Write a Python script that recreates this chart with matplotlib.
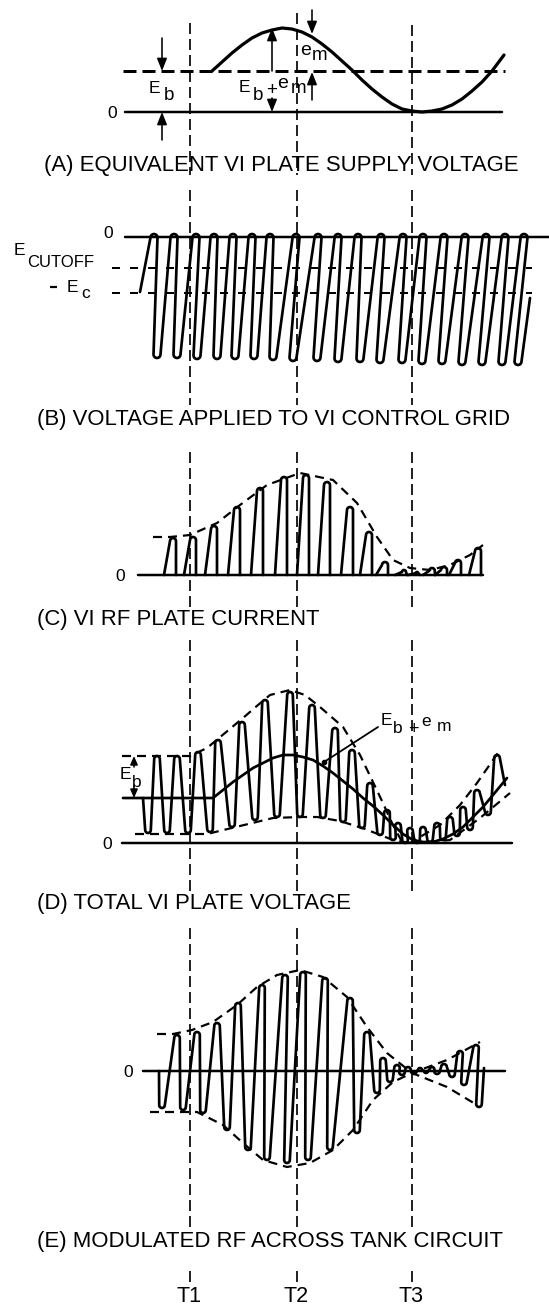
import numpy as np
import matplotlib
matplotlib.use("Agg")
import matplotlib.pyplot as plt

plt.rcParams['font.family'] = ['Liberation Sans', 'DejaVu Sans']
plt.rcParams['lines.scale_dashes'] = False
plt.rcParams['lines.solid_capstyle'] = 'round'
plt.rcParams['lines.solid_joinstyle'] = 'round'

# ---------------- data (x positions in time units = px, heights above each zero line) ----
t_labels = ['T1', 'T2', 'T3']
t_x = [190, 297, 412]
t_top = [23, 13, 25]

captions = ['(A) EQUIVALENT VI PLATE SUPPLY VOLTAGE',
            '(B) VOLTAGE APPLIED TO VI CONTROL GRID',
            '(C) VI RF PLATE CURRENT',
            '(D) TOTAL VI PLATE VOLTAGE',
            '(E) MODULATED RF ACROSS TANK CIRCUIT']

# (A) plate supply: E_b level and E_b + e_m curve
a_eb = 41
a_mod_x = [212, 222, 232, 242, 252, 262, 272, 282, 292, 302, 312, 322, 332, 342, 352,
           362, 372, 382, 392, 402, 412, 422, 432, 442, 452, 462, 472, 482, 492, 504]
a_mod_h = [41, 50, 59, 67, 74, 79, 82, 84, 83, 80, 75, 68, 60, 51, 42,
           32, 23, 15, 8, 3, 1, 0, 1, 3, 7, 13, 21, 30, 41, 57]

# (B) grid voltage: peaks / troughs
b_cutoff = -31
b_ec = -56
b_start = (140, -55)
b_end = (530, -61)
b_peak_x = [154, 174, 196, 214, 233, 252, 270, 296, 318, 338, 358, 381, 403, 423, 444, 465, 486, 505, 524]
b_peak_h = [3] * 19
b_trough_x = [157, 177, 197, 217, 235, 254, 273, 293, 317, 338, 360, 380, 402, 422, 442, 462, 482, 502, 518]
b_trough_h = [-121, -121, -122, -122, -122, -122, -123, -124, -124, -125,
              -125, -126, -126, -127, -127, -128, -128, -128, -128]

# (C) plate current pulses + envelope
c_pulse_x = [173, 193, 214, 237, 260, 284, 306, 327, 350, 369, 385, 404, 417, 432, 444, 458, 478]
c_pulse_h = [37, 38, 49, 68, 87, 98, 100, 93, 68, 43, 13, 5, 3, 7, 8, 15, 27]
c_env_x = [153, 170, 190, 217, 240, 267, 300, 333, 357, 377, 393, 410, 430, 450, 470, 483]
c_env_h = [38, 38, 40, 52, 70, 90, 102, 95, 72, 38, 15, 7, 5, 10, 20, 30]

# (D) total plate voltage
d_eb = 45
d_mod_x = [123, 213, 223, 233, 243, 253, 263, 273, 283, 293, 303, 313, 323, 333, 343, 353,
           363, 373, 383, 393, 403, 413, 423, 433, 443, 453, 463, 473, 483, 493, 507]
d_mod_h = [45, 45, 53, 61, 68, 75, 80, 85, 88, 88, 86, 83, 77, 70, 62, 54,
           45, 37, 28, 18, 9, 3, 1, 1, 4, 9, 16, 26, 36, 48, 65]
d_start = (143, 45)
d_end = (505, 58)
d_trough_x = [148, 167, 188, 210, 232, 255, 277, 300, 323, 343, 362, 380, 393, 405, 417, 430, 443, 457, 470, 488]
d_trough_h = [10, 10, 10, 11, 16, 23, 26, 26, 25, 21, 15, 8, 3, 0, 0, 1, 3, 7, 13, 28]
d_peak_x = [157, 177, 198, 218, 242, 265, 290, 312, 335, 352, 370, 387, 398, 410, 423, 437, 450, 463, 477, 497]
d_peak_h = [87, 87, 91, 103, 121, 143, 151, 138, 115, 93, 60, 33, 20, 15, 16, 20, 26, 36, 53, 88]
d_up_x = [122, 190, 207, 225, 243, 258, 270, 290, 305, 320, 343, 360, 372, 382, 392, 401, 410, 440, 460, 477, 500]
d_up_h = [87, 87, 95, 110, 125, 138, 148, 153, 148, 136, 116, 88, 63, 42, 20, 3, 0, 18, 38, 60, 93]
d_lo_x = [135, 207, 240, 273, 300, 317, 340, 365, 393, 410, 430, 450, 480, 510]
d_lo_h = [9, 9, 17, 25, 26, 26, 22, 14, 3, 0, 1, 3, 25, 50]

# (E) modulated RF across tank
e_start = (159, 0)
e_end = (484, 3)
e_ext_x = [162, 177, 183, 197, 203, 217, 227, 238, 248, 262, 267, 285, 287, 303, 308, 325, 330, 350,
           357, 367, 377, 383, 390, 397, 402, 408, 414, 420, 426, 432, 437, 444, 452, 460, 464, 476, 479]
e_ext_h = [-37, 36, -39, 39, -42, 48, -59, 68, -79, 86, -89, 96, -92, 99, -89, 93, -79, 73,
           -62, 39, -22, 13, -11, 6, -4, 4, -3, 3, -2, 4, -3, 7, -6, 20, -14, 26, -36]
e_up_x = [157, 173, 192, 213, 237, 257, 277, 300, 323, 347, 367, 387, 412, 447, 480]
e_up_h = [37, 37, 41, 49, 66, 84, 96, 101, 94, 74, 44, 18, -2, 11, 29]
e_lo_x = [150, 197, 223, 243, 263, 287, 310, 333, 353, 373, 393, 412, 447, 477]
e_lo_h = [-41, -41, -54, -72, -89, -96, -92, -79, -59, -29, -11, -2, -16, -34]

# ---------------- layout ----------------
BASE_A, BASE_B, BASE_C, BASE_D, BASE_E = 112, 237, 575, 843, 1071
CAP_Y = [165, 419, 619, 904, 1242]
CAP_X = [44, 37, 37, 37, 37]
T_SEGS = [(None, 175), (190, 405), (452, 607), (640, 892), (928, 1228), (1271, 1282)]

PT = 0.72  # points per pixel at dpi 100
LW_WAVE = 2.7 * PT
LW_ZERO = 2.5 * PT
LW_ENV = 2.2 * PT
ENV_DASH = (9 * PT, 6 * PT)

fig = plt.figure(figsize=(5.49, 13.06), dpi=100)
ax = fig.add_axes([0, 0, 1, 1])
ax.set_xlim(0, 549)
ax.set_ylim(1306, 0)
ax.axis('off')


def Y(base, h):
    return base - np.asarray(h, dtype=float)


def rounded(points, r=3.0):
    """polyline through extrema with small rounded caps"""
    xs, hs = [points[0][0]], [points[0][1]]
    for i in range(1, len(points) - 1):
        x, h = points[i]
        hp, hn = points[i - 1][1], points[i + 1][1]
        peak = h >= hp and h >= hn
        amp = min(abs(h - hp), abs(h - hn))
        rr = max(0.4, min(r, amp / 2.5))
        if peak:
            th = np.linspace(np.pi, 0, 9)
            cy = h - rr
        else:
            th = np.linspace(np.pi, 2 * np.pi, 9)
            cy = h + rr
        xs.extend(x + rr * np.cos(th))
        hs.extend(cy + rr * np.sin(th))
    xs.append(points[-1][0])
    hs.append(points[-1][1])
    return np.array(xs), np.array(hs)


def zero_line(x0, x1, base):
    ax.plot([x0, x1], [base, base], color='black', lw=LW_ZERO)


def env(xs, hs, base):
    ax.plot(xs, Y(base, hs), color='black', lw=LW_ENV, dashes=ENV_DASH)


def arrow(x, y_from, y_to, hl=0.75, hw=0.3):
    ax.annotate('', xy=(x, y_to), xytext=(x, y_from),
                arrowprops=dict(arrowstyle='-|>,head_length=%g,head_width=%g' % (hl, hw),
                                color='black', lw=1.6 * PT, shrinkA=0, shrinkB=0))


def txt(x, y, s, size=12, ha='center', va='baseline'):
    ax.text(x, y, s, fontsize=size, ha=ha, va=va, color='black')


# ---------------- T lines ----------------
for tx, top in zip(t_x, t_top):
    for y0, y1 in T_SEGS:
        y0 = top if y0 is None else y0
        ax.plot([tx, tx], [y0, y1], color='black', lw=1.7 * PT, dashes=(11 * PT, 5 * PT))
for tx, lab in zip(t_x, t_labels):
    txt(tx - 1, 1302, lab, size=15.5)

# ---------------- captions ----------------
for cx, cy, s in zip(CAP_X, CAP_Y, captions):
    ax.text(cx, cy, s, fontsize=15.9, ha='left', va='center')

# ---------------- (A) ----------------
zero_line(125, 502, BASE_A)
ax.plot([123, 505], [BASE_A - a_eb] * 2, color='black', lw=3 * PT, dashes=(13 * PT, 6 * PT))
ax.plot(a_mod_x, Y(BASE_A, a_mod_h), color='black', lw=3.2 * PT)
txt(112, BASE_A + 6, '0', size=12.5)
arrow(162, 38, BASE_A - a_eb)
arrow(162, 140, BASE_A)
txt(154, 93, 'E', size=12.5)
txt(169, 100, 'b', size=13.5)
arrow(272, BASE_A - a_eb, 28)
arrow(272, 98, BASE_A)
txt(244, 92, 'E', size=12.5)
txt(258, 100, 'b', size=13.5)
txt(272, 95, '+', size=13.5)
txt(283, 88, 'e', size=14)
txt(299, 93, 'm', size=13.5)
arrow(312, 10, 34)
arrow(312, 100, 72)
txt(306, 55, 'e', size=14)
txt(320, 60, 'm', size=13.5)

# ---------------- (B) ----------------
zero_line(125, 549, BASE_B)
for lvl in (b_cutoff, b_ec):
    ax.plot([112, 532], [BASE_B - lvl] * 2, color='black', lw=2.0 * PT, dashes=(8 * PT, 10 * PT))
pts = [b_start]
for px_, ph, tx_, th_ in zip(b_peak_x, b_peak_h, b_trough_x, b_trough_h):
    pts += [(px_, ph), (tx_, th_)]
pts.append(b_end)
bx, bh = rounded(pts, r=3.5)
ax.plot(bx, Y(BASE_B, bh), color='black', lw=LW_WAVE)
txt(108, 238, '0', size=12.5)
txt(19, 255, 'E', size=12.5)
txt(27, 267, 'CUTOFF', size=12, ha='left')
ax.plot([50, 57], [287, 287], color='black', lw=2.2 * PT, solid_capstyle='butt')
txt(72, 292, 'E', size=12.5)
txt(86, 298, 'c', size=12.5)

# ---------------- (C) ----------------
zero_line(138, 483, BASE_C)
env(c_env_x, c_env_h, BASE_C)
for cx, ch in zip(c_pulse_x, c_pulse_h):
    px_, ph_ = rounded([(cx - 9, 0), (cx, ch), (cx + 3, 0)], r=3.0)
    ax.plot(px_, Y(BASE_C, ph_), color='black', lw=LW_WAVE)
txt(120, BASE_C + 6, '0', size=12.5)

# ---------------- (D) ----------------
zero_line(122, 512, BASE_D)
env(d_up_x, d_up_h, BASE_D)
env(d_lo_x, d_lo_h, BASE_D)
ax.plot(d_mod_x, Y(BASE_D, d_mod_h), color='black', lw=LW_WAVE)
pts = [d_start]
for tx_, th_, px_, ph in zip(d_trough_x, d_trough_h, d_peak_x, d_peak_h):
    pts += [(tx_, th_), (px_, ph)]
pts.append(d_end)
dx, dh = rounded(pts, r=2.8)
ax.plot(dx, Y(BASE_D, dh), color='black', lw=LW_WAVE)
txt(107, BASE_D + 6, '0', size=12.5)
arrow(134, 767, BASE_D - d_up_h[0], hl=0.5, hw=0.22)
arrow(134, 786, BASE_D - d_eb, hl=0.5, hw=0.22)
txt(125, 779, 'E', size=12.5)
txt(137, 787, 'b', size=12.5)
ax.plot([378, 324], [727, 762], color='black', lw=1.8 * PT)
ax.plot([324], [762], 'o', color='black', ms=3)
txt(386, 725, 'E', size=12.5)
txt(398, 733, 'b', size=12.5)
txt(413, 734, '+', size=13)
txt(426, 726, 'e', size=12.5)
txt(444, 731, 'm', size=12.5)

# ---------------- (E) ----------------
zero_line(143, 505, BASE_E)
env(e_up_x, e_up_h, BASE_E)
env(e_lo_x, e_lo_h, BASE_E)
pts = [e_start] + list(zip(e_ext_x, e_ext_h)) + [e_end]
ex, eh = rounded(pts, r=2.8)
ax.plot(ex, Y(BASE_E, eh), color='black', lw=LW_WAVE)
txt(128, BASE_E + 6, '0', size=12.5)

fig.savefig('out.png', dpi=100)
